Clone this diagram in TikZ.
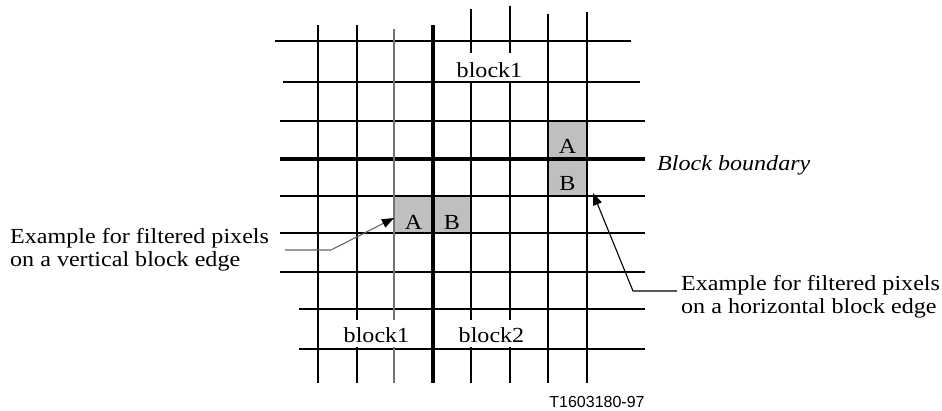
\documentclass[tikz,border=0pt]{standalone}
\usepackage{fontspec}
\setmainfont{Liberation Serif}[FakeStretch=1.12]
\setsansfont{Liberation Sans}
\usetikzlibrary{arrows.meta}
\begin{document}
\begin{tikzpicture}[x=1pt,y=-1pt,
  gridline/.style={line width=2.2pt, line cap=butt},
  boundline/.style={line width=4pt, line cap=butt},
  faintline/.style={line width=1.2pt, draw=black!55},
  cellbox/.style={fill=black!25, draw=none, minimum width=39pt, minimum height=38pt, inner sep=0pt},
  txt/.style={font=\fontsize{21.5}{21.5}\selectfont, inner sep=0pt},
  itxt/.style={font=\fontsize{21.5}{21.5}\selectfont\itshape, inner sep=0pt},
  lbl/.style={font=\fontsize{21.5}{21.5}\selectfont, fill=white, inner xsep=3pt, inner ysep=0pt},
  pointer/.style={line width=1.1pt, -{Triangle[length=12pt,width=9pt,black]}},
  ]
\useasboundingbox (0,0) rectangle (942,410);

% gray pixel cells
\node[cellbox] (hA) at (567.5,140) {};
\node[cellbox] (hB) at (567.5,177.5) {};
\node[cellbox] (vA) at (413.5,214.5) {};
\node[cellbox] (vB) at (452,214.5) {};

% horizontal grid lines
\draw[gridline] (275,41) -- (631,41);
\draw[gridline] (283,82) -- (640,82);
\draw[gridline] (280,121) -- (645,121);
\draw[gridline] (280,196) -- (645,196);
\draw[gridline] (280,233) -- (645,233);
\draw[gridline] (280,272) -- (645,272);
\draw[gridline] (299,309) -- (645,309);
\draw[gridline] (299,349) -- (645,349);
\draw[boundline] (280,159) -- (645,159);

% vertical grid lines
\draw[gridline] (318,25) -- (318,383);
\draw[gridline] (357,25) -- (357,383);
\draw[faintline] (394,29) -- (394,383);
\draw[boundline] (433,25) -- (433,383);
\draw[gridline] (471,9) -- (471,383);
\draw[gridline] (510,6) -- (510,383);
\draw[gridline] (548,14) -- (548,383);
\draw[gridline] (587,12) -- (587,383);

% pixel letters
\node[txt, anchor=base] (tA1) at (567.5,153) {A};
\node[txt, anchor=base] (tB1) at (567.5,190) {B};
\node[txt, anchor=base] (tA2) at (413.5,229) {A};
\node[txt, anchor=base] (tB2) at (452,229) {B};

% block labels
\node[lbl, anchor=base, text height=24pt, text depth=4pt] (blk1top) at (489.5,77) {block1};
\node[lbl, anchor=base, text height=22pt, text depth=5pt] (blk1bot) at (376.5,342) {block1};
\node[lbl, anchor=base, text height=22pt, text depth=5pt] (blk2bot) at (491.5,342) {block2};

% boundary label
\node[itxt, anchor=base west] (bbound) at (657,170) {Block boundary};

% example texts
\node[txt, anchor=base west] (vex1) at (10,243) {Example for filtered pixels};
\node[txt, anchor=base west] (vex2) at (10,266) {on a vertical block edge};
\node[txt, anchor=base west] (hex1) at (681,290) {Example for filtered pixels};
\node[txt, anchor=base west] (hex2) at (681,313) {on a horizontal block edge};

% pointers
\coordinate (vstart) at (285,250);
\coordinate (vbend) at (331,250);
\coordinate (vtip) at (394,218);
\draw[pointer, draw=black!60] (vstart) -- (vbend) -- (vtip);
\coordinate (hstart) at (677,291);
\coordinate (hbend) at (633,291);
\coordinate (htip) at (593,193);
\draw[pointer] (hstart) -- (hbend) -- (htip);

% figure id
\node[font=\sffamily\fontsize{16}{16}\selectfont, inner sep=0pt, anchor=base] (fid) at (597,407) {T1603180-97};
\end{tikzpicture}
\end{document}
